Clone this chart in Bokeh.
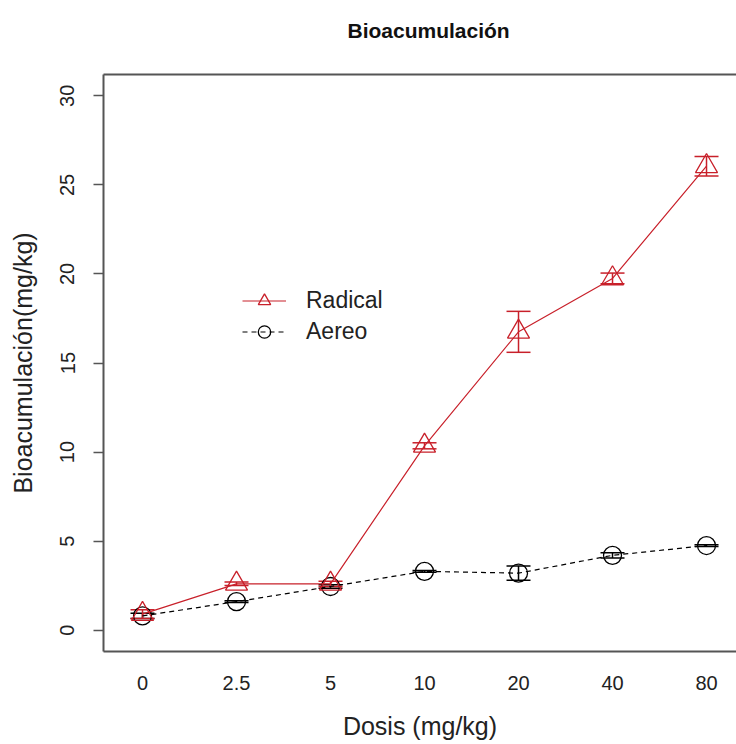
from bokeh.plotting import figure
from bokeh.models import (Range1d, FixedTicker, ColumnDataSource, Whisker, TeeHead,
                          Legend, LegendItem, LinearAxis, Title)
from bokeh.embed import file_html
from bokeh.resources import INLINE

# ---- data ----
doses = ["0", "2.5", "5", "10", "20", "40", "80"]
xpos = [1, 2, 3, 4, 5, 6, 7]
radical = [0.9, 2.6, 2.6, 10.35, 16.75, 19.75, 26.05]
radical_err = [0.25, 0.1, 0.15, 0.17, 1.15, 0.3, 0.55]
aereo = [0.8, 1.6, 2.45, 3.3, 3.2, 4.2, 4.75]
aereo_err = [0.15, 0.05, 0.1, 0.05, 0.4, 0.15, 0.05]
y_ticks = [0, 5, 10, 15, 20, 25, 30]

RED = "#C8202A"
FONT = "Liberation Sans"
BOX = "#555555"
TXT = "#222222"

p = figure(width=736, height=744, output_backend="svg", toolbar_location=None, title=None,
           x_range=Range1d(0.585, 7.319), y_range=Range1d(-1.2, 31.2),
           min_border_left=103, min_border_right=0, min_border_top=74, min_border_bottom=93)
p.outline_line_color = None
p.grid.visible = False
p.background_fill_color = "white"

# top border (axis line only); its invisible tick pushes the title upward
top_axis = LinearAxis(ticker=FixedTicker(ticks=[4]), major_tick_out=20, major_tick_in=0,
                      minor_tick_out=0, minor_tick_in=0,
                      major_tick_line_alpha=0, minor_tick_line_color=None,
                      major_label_overrides={4: ""}, major_label_text_font_size="1px",
                      major_label_standoff=0,
                      axis_line_color=BOX, axis_line_width=2)
p.add_layout(top_axis, "above")

title = Title(text="Bioacumulación", text_font=FONT, text_font_size="21px",
              text_font_style="bold", text_color="#111111",
              align="left", offset=244, standoff=25)
p.add_layout(title, "above")

# x axis
xa = p.below[0]
xa.ticker = FixedTicker(ticks=xpos)
xa.major_label_overrides = {x: d for x, d in zip(xpos, doses)}
xa.major_tick_out = 0
xa.major_tick_in = 0
xa.minor_tick_out = 0
xa.minor_tick_in = 0
xa.axis_line_color = BOX
xa.axis_line_width = 2
xa.major_label_text_font = FONT
xa.major_label_text_font_size = "20px"
xa.major_label_text_color = TXT
xa.major_label_standoff = 24
xa.axis_label = "Dosis (mg/kg)"
xa.axis_label_text_font = FONT
xa.axis_label_text_font_size = "25px"
xa.axis_label_text_font_style = "normal"
xa.axis_label_text_color = TXT
xa.axis_label_standoff = 19

# y axis
ya = p.left[0]
ya.ticker = FixedTicker(ticks=y_ticks)
ya.major_tick_out = 10
ya.major_tick_in = 0
ya.minor_tick_out = 0
ya.minor_tick_in = 0
ya.major_tick_line_color = BOX
ya.major_tick_line_width = 1.5
ya.axis_line_color = BOX
ya.axis_line_width = 2
ya.major_label_orientation = "vertical"
ya.major_label_text_font = FONT
ya.major_label_text_font_size = "20px"
ya.major_label_text_color = TXT
ya.major_label_standoff = 19
ya.axis_label = "Bioacumulación(mg/kg)"
ya.axis_label_text_font = FONT
ya.axis_label_text_font_size = "25px"
ya.axis_label_text_font_style = "normal"
ya.axis_label_text_color = TXT
ya.axis_label_standoff = 21

src = ColumnDataSource(dict(
    x=xpos, r=radical,
    r_up=[v + e for v, e in zip(radical, radical_err)],
    r_lo=[v - e for v, e in zip(radical, radical_err)],
    a=aereo,
    a_up=[v + e for v, e in zip(aereo, aereo_err)],
    a_lo=[v - e for v, e in zip(aereo, aereo_err)],
))

# Aereo (black, dashed, circles)
a_line = p.line("x", "a", source=src, line_color="black", line_width=1.2, line_dash="5 4")
p.add_layout(Whisker(source=src, base="x", upper="a_up", lower="a_lo",
                     line_color="black", line_width=1.5,
                     upper_head=TeeHead(size=24, line_color="black", line_width=1.5),
                     lower_head=TeeHead(size=24, line_color="black", line_width=1.5)))
a_pts = p.scatter("x", "a", source=src, marker="circle", size=18,
                  fill_color=None, line_color="black", line_width=1.3)

# Radical (red, solid, triangles)
r_line = p.line("x", "r", source=src, line_color=RED, line_width=1.2)
p.add_layout(Whisker(source=src, base="x", upper="r_up", lower="r_lo",
                     line_color=RED, line_width=1.5,
                     upper_head=TeeHead(size=24, line_color=RED, line_width=1.5),
                     lower_head=TeeHead(size=24, line_color=RED, line_width=1.5)))
r_pts = p.scatter("x", "r", source=src, marker="triangle", size=22,
                  fill_color=None, line_color=RED, line_width=1.3)

legend = Legend(items=[LegendItem(label="Radical", renderers=[r_line, r_pts]),
                       LegendItem(label="Aereo", renderers=[a_line, a_pts])],
                location=(139, 304), orientation="vertical",
                glyph_width=44, glyph_height=31, label_height=31, spacing=0,
                padding=0, margin=0, label_standoff=20,
                border_line_color=None, background_fill_alpha=0,
                label_text_font=FONT, label_text_font_size="23px",
                label_text_color=TXT)
p.add_layout(legend, "center")

open("out.html", "w").write(file_html(p, INLINE))
